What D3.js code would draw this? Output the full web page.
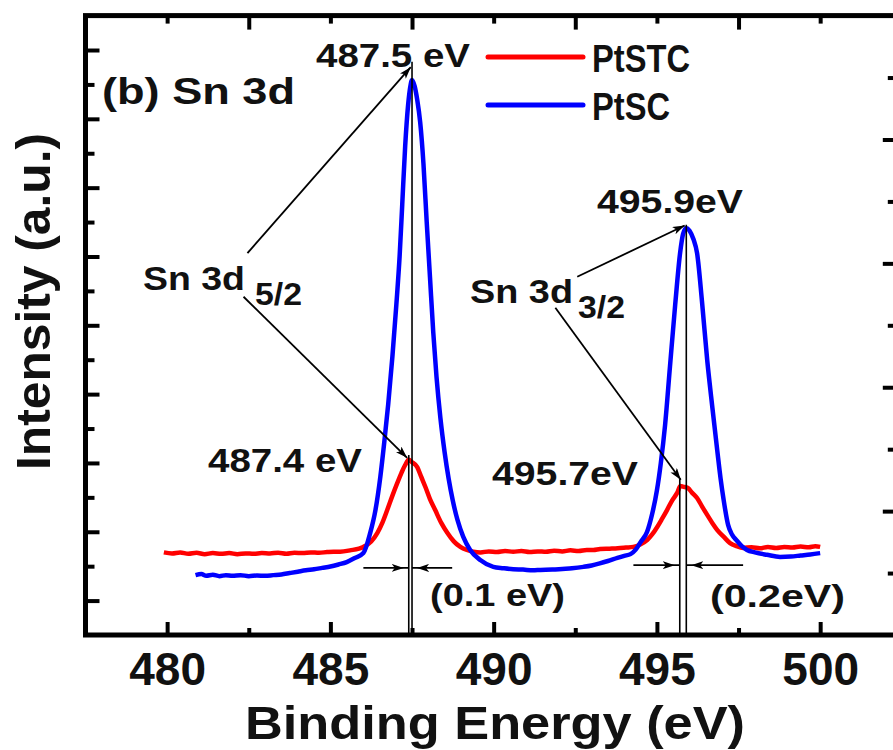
<!DOCTYPE html>
<html>
<head>
<meta charset="utf-8">
<script src="https://cdn.jsdelivr.net/npm/d3@7"></script>
<style>
  body { margin: 0; background: #fff; }
  svg { display: block; }
  text { font-family: "Liberation Sans", Arial, sans-serif; font-weight: bold; fill: #111; }
</style>
</head>
<body>
<svg id="chart" width="893" height="750"></svg>
<script>
// XPS Sn 3d spectra, binding energy (eV) vs intensity (a.u.)
const energyPtSTC = [
  479.90, 480.15, 480.40, 480.65, 480.90, 481.15, 481.40, 481.65, 481.90, 482.15,
  482.40, 482.65, 482.90, 483.15, 483.40, 483.65, 483.90, 484.15, 484.40, 484.65,
  484.90, 485.10, 485.30, 485.60, 486.01, 486.25, 486.44, 486.60, 486.74, 486.90,
  487.05, 487.18, 487.29, 487.40, 487.50, 487.66, 487.78, 487.91, 488.05, 488.21,
  488.40, 488.58, 488.78, 488.98, 489.18, 489.38, 489.60, 489.85, 490.10, 490.35,
  490.60, 490.85, 491.10, 491.35, 491.60, 491.85, 492.10, 492.35, 492.60, 492.85,
  493.05, 493.26, 493.55, 493.80, 494.05, 494.28, 494.50, 494.70, 494.86, 495.01,
  495.16, 495.31, 495.46, 495.62, 495.72, 495.80, 495.95, 496.08, 496.23, 496.38,
  496.54, 496.70, 496.85, 497.05, 497.24, 497.44, 497.64, 497.90, 498.15, 498.40,
  498.65, 498.90, 499.15, 499.40, 499.65, 499.85, 500.00
];
const intensityPtSTC = [
  2.40, 2.37, 2.40, 2.36, 2.39, 2.35, 2.38, 2.36, 2.38, 2.35,
  2.37, 2.36, 2.38, 2.37, 2.39, 2.36, 2.39, 2.38, 2.40, 2.39,
  2.41, 2.42, 2.42, 2.46, 2.56, 2.72, 2.97, 3.28, 3.63, 4.05,
  4.42, 4.72, 4.94, 5.09, 5.02, 4.88, 4.60, 4.30, 3.95, 3.63,
  3.25, 2.97, 2.72, 2.56, 2.47, 2.42, 2.40, 2.43, 2.41, 2.44,
  2.42, 2.44, 2.41, 2.43, 2.42, 2.45, 2.43, 2.46, 2.44, 2.47,
  2.47, 2.50, 2.51, 2.52, 2.54, 2.56, 2.64, 2.76, 2.93, 3.14,
  3.38, 3.63, 3.90, 4.13, 4.33, 4.31, 4.27, 4.13, 3.98, 3.74,
  3.49, 3.25, 3.05, 2.85, 2.67, 2.58, 2.53, 2.55, 2.52, 2.56,
  2.53, 2.56, 2.54, 2.57, 2.55, 2.58, 2.56
];

const energyPtSC = [
  480.87, 481.05, 481.20, 481.40, 481.60, 481.80, 482.00, 482.25, 482.50, 482.75,
  483.00, 483.25, 483.50, 483.75, 484.00, 484.25, 484.50, 484.75, 485.00, 485.25,
  485.50, 485.75, 486.01, 486.22, 486.38, 486.53, 486.65, 486.77, 486.90, 487.02,
  487.12, 487.20, 487.29, 487.38, 487.45, 487.50, 487.58, 487.66, 487.75, 487.85,
  487.95, 488.05, 488.15, 488.25, 488.37, 488.50, 488.62, 488.75, 488.89, 489.07,
  489.28, 489.59, 489.99, 490.30, 490.60, 490.90, 491.20, 491.43, 491.80, 492.10,
  492.40, 492.75, 493.00, 493.25, 493.50, 493.79, 494.00, 494.19, 494.35, 494.50,
  494.70, 494.85, 495.00, 495.12, 495.25, 495.40, 495.56, 495.71, 495.80, 495.90,
  496.00, 496.12, 496.23, 496.38, 496.54, 496.70, 496.85, 496.95, 497.04, 497.18,
  497.30, 497.45, 497.60, 497.76, 498.00, 498.37, 498.77, 499.10, 499.40, 499.70,
  500.00
];
const intensityPtSC = [
  1.74, 1.77, 1.72, 1.75, 1.71, 1.74, 1.72, 1.74, 1.71, 1.73,
  1.72, 1.74, 1.76, 1.80, 1.84, 1.88, 1.91, 1.95, 1.99, 2.05,
  2.12, 2.24, 2.38, 2.97, 3.63, 4.60, 5.60, 6.70, 8.10, 9.60,
  11.00, 12.50, 14.20, 15.40, 15.95, 16.13, 15.95, 15.55, 14.90, 13.70,
  12.00, 10.40, 8.80, 7.50, 6.30, 5.30, 4.55, 3.90, 3.35, 2.85,
  2.47, 2.18, 1.98, 1.94, 1.91, 1.90, 1.88, 1.89, 1.90, 1.92,
  1.94, 1.98, 2.02, 2.08, 2.15, 2.24, 2.30, 2.35, 2.48, 2.70,
  3.00, 3.50, 4.20, 5.00, 6.10, 7.80, 9.60, 11.10, 11.65, 11.83,
  11.75, 11.50, 11.10, 9.70, 7.99, 6.60, 5.35, 4.55, 3.95, 3.20,
  2.92, 2.74, 2.58, 2.47, 2.40, 2.33, 2.27, 2.28, 2.31, 2.34,
  2.38
];

const seriesNames = ["PtSTC", "PtSC"];
const seriesColors = ["#ff0000", "#0000ff"];

const xMajorTicks = [480, 485, 490, 495, 500];
const xMinorTicks = [482.5, 487.5, 492.5, 497.5];
const yLeftMajor = [1, 3, 5, 7, 9, 11, 13, 15, 17];
const yLeftMinor = [2, 4, 6, 8, 10, 12, 14, 16];
const yRightMajor = [2, 4, 6, 8];
const yRightMinor = [1, 3, 5, 7, 9];

// peak positions quoted in the labels (eV)
const peakEnergies = { stc52: 487.4, sc52: 487.5, stc32: 495.7, sc32: 495.9 };
const shiftLabels = ["(0.1 eV)", "(0.2eV)"];

const svg = d3.select("#chart");
const plotL = 85.5, plotR = 901.8, plotT = 15.6, plotB = 635;

const x = d3.scaleLinear().domain([477.5, 502.5]).range([plotL, plotR]);
const y = d3.scaleLinear().domain([0, 18]).range([plotB, plotT]);
const yR = d3.scaleLinear().domain([0, 10]).range([plotB, plotT]);

// arrowhead
const defs = svg.append("defs");
defs.append("marker")
  .attr("id", "head")
  .attr("viewBox", "0 0 12 8")
  .attr("refX", 12).attr("refY", 4)
  .attr("markerWidth", 12).attr("markerHeight", 8)
  .attr("markerUnits", "userSpaceOnUse")
  .attr("orient", "auto")
  .append("path").attr("d", "M0,0 L12,4 L0,8 L3,4 Z").attr("fill", "#000");

// spectra
const line = d3.line().x(d => x(d[0])).y(d => y(d[1])).curve(d3.curveMonotoneX);
const series = [
  d3.zip(energyPtSTC, intensityPtSTC),
  d3.zip(energyPtSC, intensityPtSC)
];
series.forEach((pts, i) => {
  svg.append("path")
    .datum(pts)
    .attr("d", line)
    .attr("fill", "none")
    .attr("stroke", seriesColors[i])
    .attr("stroke-width", 4.5)
    .attr("stroke-linejoin", "round");
});

// axes (inward ticks on all four sides)
function styleAxis(g, fontSize) {
  g.select(".domain").remove();
  g.selectAll(".tick line").attr("stroke", "#000").attr("stroke-width", 4);
  g.selectAll(".tick text")
    .attr("font-family", "'Liberation Sans', Arial, sans-serif")
    .attr("font-weight", "bold")
    .attr("font-size", fontSize || 10)
    .attr("fill", "#111");
}
svg.append("g").attr("transform", `translate(0,${plotB})`)
  .call(d3.axisBottom(x).tickValues(xMajorTicks).tickSizeInner(-13).tickSizeOuter(0)
    .tickPadding(17).tickFormat(d3.format("d")))
  .call(g => styleAxis(g, 46));
svg.append("g").attr("transform", `translate(0,${plotB})`)
  .call(d3.axisBottom(x).tickValues(xMinorTicks).tickSizeInner(-7).tickSizeOuter(0).tickFormat(""))
  .call(g => styleAxis(g));
svg.append("g").attr("transform", `translate(0,${plotT})`)
  .call(d3.axisTop(x).tickValues(xMajorTicks).tickSizeInner(-8).tickSizeOuter(0).tickFormat(""))
  .call(g => styleAxis(g));
svg.append("g").attr("transform", `translate(0,${plotT})`)
  .call(d3.axisTop(x).tickValues(xMinorTicks).tickSizeInner(-14).tickSizeOuter(0).tickFormat(""))
  .call(g => styleAxis(g));
svg.append("g").attr("transform", `translate(${plotL},0)`)
  .call(d3.axisLeft(y).tickValues(yLeftMajor).tickSizeInner(-14).tickSizeOuter(0).tickFormat(""))
  .call(g => styleAxis(g));
svg.append("g").attr("transform", `translate(${plotL},0)`)
  .call(d3.axisLeft(y).tickValues(yLeftMinor).tickSizeInner(-9).tickSizeOuter(0).tickFormat(""))
  .call(g => styleAxis(g));
svg.append("g").attr("transform", `translate(${plotR},0)`)
  .call(d3.axisRight(yR).tickValues(yRightMajor).tickSizeInner(-19).tickSizeOuter(0).tickFormat(""))
  .call(g => styleAxis(g));
svg.append("g").attr("transform", `translate(${plotR},0)`)
  .call(d3.axisRight(yR).tickValues(yRightMinor).tickSizeInner(-14).tickSizeOuter(0).tickFormat(""))
  .call(g => styleAxis(g));

// frame
svg.append("rect")
  .attr("x", plotL).attr("y", plotT)
  .attr("width", plotR - plotL).attr("height", plotB - plotT)
  .attr("fill", "none").attr("stroke", "#000").attr("stroke-width", 5);

// axis titles
svg.append("text")
  .attr("x", 245).attr("y", 739)
  .attr("font-size", 46)
  .attr("textLength", 500).attr("lengthAdjust", "spacingAndGlyphs")
  .text("Binding Energy (eV)");
svg.append("text")
  .attr("transform", "translate(50,470) rotate(-90)")
  .attr("font-size", 48)
  .attr("textLength", 337).attr("lengthAdjust", "spacingAndGlyphs")
  .text("Intensity (a.u.)");

// panel title
svg.append("text")
  .attr("x", 102).attr("y", 104)
  .attr("font-size", 37)
  .attr("textLength", 193).attr("lengthAdjust", "spacingAndGlyphs")
  .text("(b) Sn 3d");

// legend
seriesNames.forEach((name, i) => {
  const ly = 57 + i * 48;
  svg.append("line")
    .attr("x1", 488).attr("x2", 583).attr("y1", ly).attr("y2", ly)
    .attr("stroke", seriesColors[i]).attr("stroke-width", 5).attr("stroke-linecap", "round");
  svg.append("text")
    .attr("x", 592).attr("y", ly + 15)
    .attr("font-size", 38)
    .attr("textLength", i === 0 ? 98 : 78).attr("lengthAdjust", "spacingAndGlyphs")
    .text(name);
});

// vertical drop lines from each peak to the energy axis
const dropLines = [
  { e: peakEnergies.sc52, top: 16.66 },
  { e: peakEnergies.stc52, top: 5.23 },
  { e: peakEnergies.sc32, top: 11.92 },
  { e: peakEnergies.stc32, top: 4.56 }
];
dropLines.forEach(d => {
  svg.append("line")
    .attr("x1", x(d.e)).attr("x2", x(d.e))
    .attr("y1", y(d.top)).attr("y2", plotB)
    .attr("stroke", "#000").attr("stroke-width", 1.6);
});

// pointer arrows from the doublet labels to the peaks
const pointers = [
  { from: [482.46, 11.10], to: [peakEnergies.sc52 - 0.04, 16.50] },
  { from: [482.34, 9.83], to: [peakEnergies.stc52 - 0.05, 5.15] },
  { from: [492.56, 10.41], to: [peakEnergies.sc32 - 0.05, 11.90] },
  { from: [491.89, 9.51], to: [peakEnergies.stc32 + 0.03, 4.51] }
];
pointers.forEach(p => {
  svg.append("line")
    .attr("x1", x(p.from[0])).attr("y1", y(p.from[1]))
    .attr("x2", x(p.to[0])).attr("y2", y(p.to[1]))
    .attr("stroke", "#000").attr("stroke-width", 1.8)
    .attr("marker-end", "url(#head)");
});

// shift markers between the two samples' peaks
const shifts = [
  { y: 1.95, lo: peakEnergies.stc52, hi: peakEnergies.sc52, outL: 486.01, outR: 488.73 },
  { y: 2.03, lo: peakEnergies.stc32, hi: peakEnergies.sc32, outL: 494.28, outR: 497.64 }
];
shifts.forEach(s => {
  const yy = y(s.y);
  svg.append("line").attr("x1", x(s.outL)).attr("x2", x(s.lo)).attr("y1", yy).attr("y2", yy)
    .attr("stroke", "#000").attr("stroke-width", 1.6);
  svg.append("line").attr("x1", x(s.outL)).attr("x2", x(s.lo) - 5).attr("y1", yy).attr("y2", yy)
    .attr("stroke", "none").attr("marker-end", "url(#head)");
  svg.append("line").attr("x1", x(s.outR)).attr("x2", x(s.hi)).attr("y1", yy).attr("y2", yy)
    .attr("stroke", "#000").attr("stroke-width", 1.6);
  svg.append("line").attr("x1", x(s.outR)).attr("x2", x(s.hi) + 5).attr("y1", yy).attr("y2", yy)
    .attr("stroke", "none").attr("marker-end", "url(#head)");
});

// annotation text
const labels = [
  { t: "487.5 eV", x: 316, y: 67, size: 33, len: 154 },
  { t: "495.9eV", x: 597, y: 213, size: 34, len: 146 },
  { t: "487.4 eV", x: 208, y: 472, size: 34, len: 154 },
  { t: "495.7eV", x: 492, y: 485, size: 34, len: 146 },
  { t: shiftLabels[0], x: 430, y: 606, size: 32, len: 135 },
  { t: shiftLabels[1], x: 710, y: 607, size: 32, len: 135 }
];
labels.forEach(l => {
  svg.append("text")
    .attr("x", l.x).attr("y", l.y)
    .attr("font-size", l.size)
    .attr("textLength", l.len).attr("lengthAdjust", "spacingAndGlyphs")
    .text(l.t);
});

// doublet labels with subscripts
const doublets = [
  { main: "Sn 3d", sub: "5/2", x: 143, y: 290, len: 102, sx: 255, sy: 305 },
  { main: "Sn 3d", sub: "3/2", x: 470, y: 303, len: 103, sx: 578, sy: 318 }
];
doublets.forEach(d => {
  svg.append("text")
    .attr("x", d.x).attr("y", d.y)
    .attr("font-size", 34)
    .attr("textLength", d.len).attr("lengthAdjust", "spacingAndGlyphs")
    .text(d.main);
  svg.append("text")
    .attr("x", d.sx).attr("y", d.sy)
    .attr("font-size", 31)
    .attr("textLength", 47).attr("lengthAdjust", "spacingAndGlyphs")
    .text(d.sub);
});
</script>
</body>
</html>
